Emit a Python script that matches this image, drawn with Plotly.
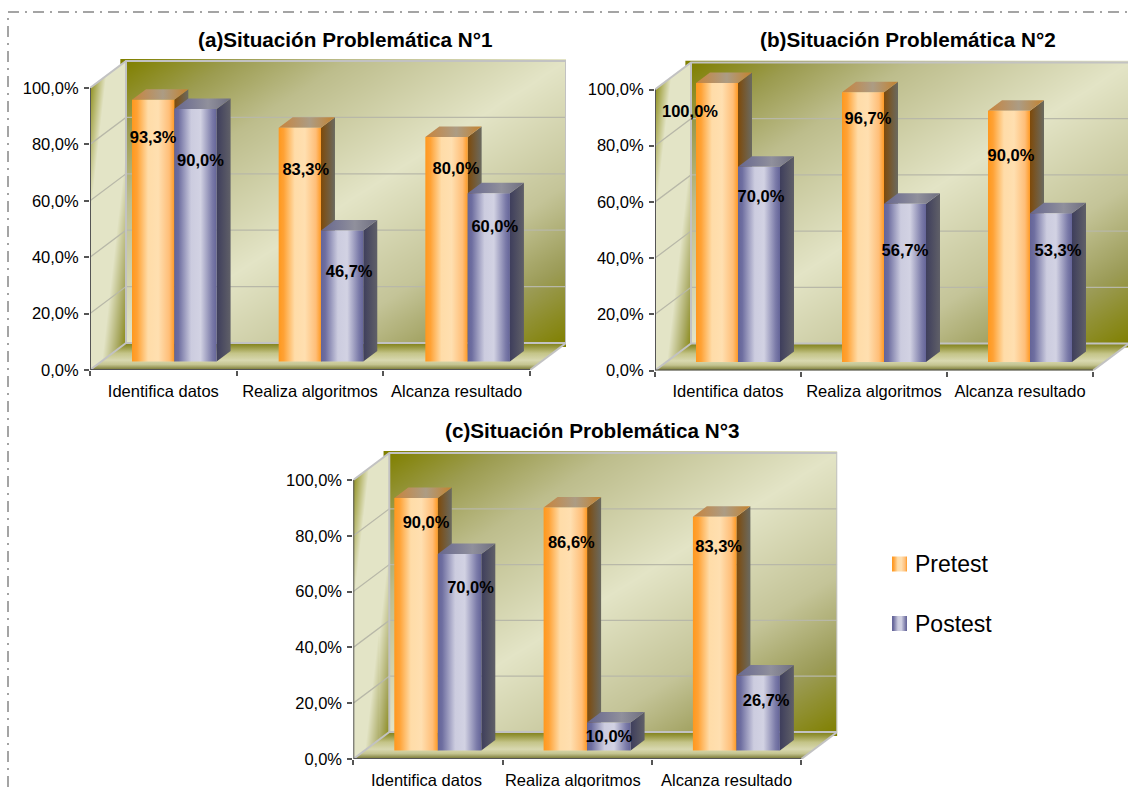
import numpy as np
import plotly.graph_objects as go

W, H = 1128, 787
FONT = "Liberation Sans"

CATEGORIES = ["Identifica datos", "Realiza algoritmos", "Alcanza resultado"]
SERIES = ["Pretest", "Postest"]
Y_TICKS = [0, 20, 40, 60, 80, 100]

PRE_A = [93.3, 83.3, 80.0]
POST_A = [90.0, 46.7, 60.0]
PRE_B = [100.0, 96.7, 90.0]
POST_B = [70.0, 56.7, 53.3]
PRE_C = [90.0, 86.6, 83.3]
POST_C = [70.0, 10.0, 26.7]

TITLE_A = "(a)Situación Problemática N°1"
TITLE_B = "(b)Situación Problemática N°2"
TITLE_C = "(c)Situación Problemática N°3"

# Box geometry in pixels: plot origin, category width, px per percent,
# and hand placement of the value labels relative to each bar top.
PANELS = [
    dict(pre=PRE_A, post=POST_A, title=TITLE_A, tx=345.5, ty=40, x0=90, y0=370, top=88, cw=146.67,
         start=42, bw=42.3, bar_scale=0.995, label_pos=[0.5, 1.5, 2.5],
         pre_off=[(0, 39), (6, 43), (9.5, 33)], post_off=[(5, 53), (7, 42), (6, 35)]),
    dict(pre=PRE_B, post=POST_B, title=TITLE_B, tx=908, ty=40, x0=655, y0=370.5, top=89.5, cw=146,
         start=41, bw=42, bar_scale=0.993, label_pos=[0.5, 1.5, 2.5],
         pre_off=[(-27, 30), (5, 28), (2, 46)], post_off=[(2, 31), (0, 48), (7, 39)]),
    dict(pre=PRE_C, post=POST_C, title=TITLE_C, tx=592, ty=430, x0=353.3, y0=759, top=480, cw=149.3,
         start=41, bw=43.5, bar_scale=1.006, label_pos=[0.49, 1.47, 2.5],
         pre_off=[(10, 26), (6, 36), (4, 31)], post_off=[(11, 35), (0, 15), (8, 26)]),
]

DEPTH_X, DEPTH_Y = 36, 27       # wall offset behind the axis plane
BAR_DX, BAR_DY = 14, 10.5       # bar depth
BAR_LIFT = 8.5                  # bars stand this far behind the floor's front edge

OLIVE, LIGHT = "#808000", "#E3E4C6"
WALL_SCALE = [[0, OLIVE], [0.12, "#9C9C50"], [0.25, "#BDBD8C"], [0.5, LIGHT],
              [0.72, "#C4C498"], [0.86, "#9C9C58"], [1, OLIVE]]
SIDE_SCALE = [[0, OLIVE], [0.25, LIGHT], [0.65, LIGHT], [0.85, "#A8A860"], [1, OLIVE]]
FLOOR_SCALE = [[0, "#72722C"], [0.2, "#C4C490"], [0.36, "#D8D8B0"], [0.62, "#C4C488"],
               [0.85, "#989840"], [1, "#7E7E14"]]
EDGE = "#C2C2C2"
AXIS_LINE = "#555555"
GRID = "#B8B8A8"

FACES = {
    "Pretest": dict(
        front=[[0, "#FF981E"], [0.12, "#FFA235"], [0.38, "#FFDCA8"], [0.62, "#FFDFB0"],
               [0.88, "#FFBE78"], [1, "#FF9A24"]],
        top=[[0, "#C8843C"], [0.55, "#AC9C84"], [1, "#C4822E"]],
        side=[[0, "#7E4A0A"], [1, "#6A6A60"]],
    ),
    "Postest": dict(
        front=[[0, "#646498"], [0.1, "#6E6EA0"], [0.4, "#CCCCDF"], [0.62, "#D2D2E3"],
               [0.9, "#7A7AA8"], [1, "#646498"]],
        top=[[0, "#66668E"], [0.6, "#90909C"], [1, "#6E6E80"]],
        side=[[0, "#3E3E5C"], [1, "#606068"]],
    ),
}


def face(xs, ys, axes, scale, kind="horizontal"):
    return go.Scatter(x=xs, y=ys, xaxis=axes[0], yaxis=axes[1], mode="none", fill="toself",
                      fillgradient=dict(type=kind, colorscale=scale),
                      hoverinfo="skip", showlegend=False)


def stroke(xs, ys, axes, color, width):
    return go.Scatter(x=xs, y=ys, xaxis=axes[0], yaxis=axes[1], mode="lines",
                      line=dict(color=color, width=width), cliponaxis=False,
                      hoverinfo="skip", showlegend=False)


fig = go.Figure()
layout = {}

for i, p in enumerate(PANELS):
    suffix = "" if i == 0 else str(i + 1)
    axes = ("x" + suffix, "y" + suffix)
    sx = p["cw"]
    sy = (p["y0"] - p["top"]) / 100.0
    x0, y0 = p["x0"], p["y0"]
    ux = lambda px: px / sx
    uy = lambda px: px / sy
    dx, dy = ux(DEPTH_X), uy(DEPTH_Y)
    right_px = min(W, x0 + 3 * sx + DEPTH_X)
    top_px = y0 - 100 * sy - DEPTH_Y - 2

    # Back wall: diagonal olive-to-cream sweep
    n = 40
    gx = np.linspace(dx, 3 + dx, n)
    gy = np.linspace(dy, 100 + dy, n)
    uu, vv = np.meshgrid(np.linspace(0, 1, n), np.linspace(1, 0, n))
    fig.add_trace(go.Heatmap(x=gx, y=gy, z=(uu + vv) / 2, xaxis=axes[0], yaxis=axes[1],
                             colorscale=WALL_SCALE, zmin=0, zmax=1, zsmooth="best",
                             showscale=False, hoverinfo="skip"))

    # Side wall: same sweep clipped to the parallelogram
    nx, ny = DEPTH_X, 312
    sxs = np.linspace(0, dx, nx)
    sys_ = np.linspace(0, 100 + dy, ny)
    su, sv = np.meshgrid(np.linspace(0, 1, nx), np.linspace(1, 0, ny))
    sz = (su + sv) / 2
    xg, yg = np.meshgrid(sxs, sys_)
    sz[(yg < xg / dx * dy) | (yg > 100 + xg / dx * dy)] = np.nan
    fig.add_trace(go.Heatmap(x=sxs, y=sys_, z=sz, xaxis=axes[0], yaxis=axes[1],
                             colorscale=SIDE_SCALE, zmin=0, zmax=1,
                             showscale=False, hoverinfo="skip"))

    # Floor
    fig.add_trace(face([0, 3, 3 + dx, dx, 0], [0, 0, dy, dy, 0], axes, FLOOR_SCALE, "vertical"))

    # Gridlines across both walls
    for t in Y_TICKS[1:-1]:
        fig.add_trace(stroke([0, dx, 3 + dx], [t, t + dy, t + dy], axes, GRID, 1.3))

    # Wall edges
    fig.add_trace(stroke([0, dx, 3 + dx, 3 + dx, dx, dx], [100, 100 + dy, 100 + dy, dy, dy, 100 + dy],
                         axes, EDGE, 2))
    fig.add_trace(stroke([0, dx], [0, dy], axes, EDGE, 2))
    fig.add_trace(stroke([3, 3 + dx], [0, dy], axes, EDGE, 2))

    # Axis lines in front of the walls
    fig.add_trace(stroke([0, 0, 3], [100, 0, 0], axes, AXIS_LINE, 2))

    # Bars, back faces first, pre before post within each group
    lift = uy(BAR_LIFT)
    bw, bdx, bdy = ux(p["bw"]), ux(BAR_DX), uy(BAR_DY)
    lx, ly, lt = [], [], []
    for c in range(3):
        left = c + ux(p["start"])
        for s, (name, values, offs) in enumerate(
            [("Pretest", p["pre"], p["pre_off"]), ("Postest", p["post"], p["post_off"])]
        ):
            v = values[c]
            h = v * p["bar_scale"] + lift
            a = left + s * bw
            b = a + bw
            st = FACES[name]
            fig.add_trace(face([b, b + bdx, b + bdx, b, b], [lift, lift + bdy, h + bdy, h, lift],
                               axes, st["side"]))
            fig.add_trace(face([a, b, b + bdx, a + bdx, a], [h, h, h + bdy, h + bdy, h], axes, st["top"]))
            fig.add_trace(face([a, b, b, a, a], [lift, lift, h, h, lift], axes, st["front"]))
            ox, oy = offs[c]
            lx.append(a + bw / 2 + ux(ox))
            ly.append(h - uy(oy))
            lt.append(f"{v:.1f}%".replace(".", ","))

    fig.add_trace(go.Scatter(x=lx, y=ly, text=lt, xaxis=axes[0], yaxis=axes[1], mode="text",
                             textposition="middle center", cliponaxis=False,
                             textfont=dict(family=FONT, size=16.5, color="#000000", weight="bold"),
                             hoverinfo="skip", showlegend=False))

    layout["xaxis" + suffix] = dict(
        domain=[x0 / W, right_px / W], range=[0, (right_px - x0) / sx], anchor=axes[1],
        showgrid=False, zeroline=False, showline=False, automargin=False,
        tickmode="array", tickvals=p["label_pos"], ticktext=CATEGORIES, ticks="",
        tickfont=dict(family=FONT, size=16.5, color="#000000"), ticklabelstandoff=9,
        minor=dict(tickmode="array", tickvals=[0, 1, 2, 3], ticks="outside", ticklen=5,
                   tickwidth=1.5, tickcolor=AXIS_LINE, showgrid=False),
        fixedrange=True,
    )
    layout["yaxis" + suffix] = dict(
        domain=[1 - y0 / H, 1 - top_px / H], range=[0, (y0 - top_px) / sy], anchor=axes[0],
        showgrid=False, zeroline=False, showline=False, automargin=False,
        tickmode="array", tickvals=Y_TICKS, ticktext=[f"{t},0%" for t in Y_TICKS],
        ticks="outside", ticklen=5, tickwidth=1.5, tickcolor=AXIS_LINE,
        tickfont=dict(family=FONT, size=16.5, color="#000000"), ticklabelstandoff=2,
        fixedrange=True,
    )

# Key drawn in its own small frame so the swatches can carry the bar gradients
leg = ("x4", "y4")
layout["xaxis4"] = dict(domain=[880 / W, 1010 / W], range=[880, 1010], visible=False, fixedrange=True)
layout["yaxis4"] = dict(domain=[1 - 650 / H, 1 - 540 / H], range=[650, 540], visible=False, fixedrange=True)
for name, yc in zip(SERIES, [564, 623.5]):
    fig.add_trace(face([892, 907, 907, 892, 892], [yc - 7.5, yc - 7.5, yc + 7.5, yc + 7.5, yc - 7.5],
                       leg, FACES[name]["front"]))
    fig.add_trace(go.Scatter(x=[915], y=[yc + 2.5], text=[name], xaxis=leg[0], yaxis=leg[1], mode="text",
                             textposition="middle right", cliponaxis=False,
                             textfont=dict(family=FONT, size=23, color="#000000"),
                             hoverinfo="skip", showlegend=False))

annotations = [
    dict(text=p["title"], x=p["tx"] / W, y=1 - p["ty"] / H, xref="paper", yref="paper",
         xanchor="center", yanchor="middle", showarrow=False,
         font=dict(family=FONT, size=20.7, color="#000000", weight="bold"))
    for p in PANELS
]

# Dash-dot frame around the figure, open to the right and below
frame_shape = dict(type="path", xref="paper", yref="paper",
                   path=f"M {8 / W} 0 L {8 / W} {1 - 12 / H} L 1 {1 - 12 / H}",
                   line=dict(color="#A4A4A4", width=2, dash="11px,6px,2px,6px"))

fig.update_layout(width=W, height=H, margin=dict(l=0, r=0, t=0, b=0, pad=0, autoexpand=False),
                  paper_bgcolor="#FFFFFF", plot_bgcolor="rgba(0,0,0,0)",
                  showlegend=False, annotations=annotations, shapes=[frame_shape], **layout)

fig.write_html("out.html", config=dict(displayModeBar=False))
